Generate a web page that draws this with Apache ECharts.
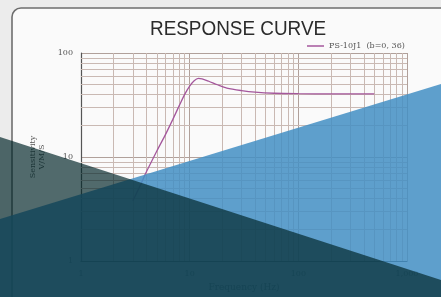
<!DOCTYPE html>
<html>
<head>
<meta charset="utf-8">
<script src="https://cdn.jsdelivr.net/npm/echarts@6/dist/echarts.min.js"></script>
<style>
  html, body { margin: 0; padding: 0; background: #ececec; }
  #chart { width: 441px; height: 297px; }
</style>
</head>
<body>
<div id="chart"></div>
<script>
// response curve: frequency (Hz) / sensitivity (V/M/S)
var freq = [3, 3.5, 4, 5, 6, 7, 8, 9, 10, 11, 12, 13, 15, 18, 22, 30, 40, 60, 100, 200, 300, 500]
var sens = [3.8, 5.3, 7.2, 11.5, 16.5, 23, 31, 40, 48, 54, 57, 56.5, 53.5, 49.5, 46, 43.5, 42, 41, 40.6, 40.4, 40.4, 40.4]
var xMinor = [2, 3, 4, 5, 6, 7, 8, 9, 20, 30, 40, 50, 60, 70, 80, 90, 200, 300, 400, 500, 600, 700, 800, 900]
var yMinor = [2, 3, 4, 5, 6, 7, 8, 9, 20, 30, 40, 50, 60, 70, 80, 90]
var seriesName = 'PS-10J1  (b=0, 36)'

var chart = echarts.init(document.getElementById('chart'))

var gridColor = '#c9b9b3'
var serif = '"DejaVu Serif", "Liberation Serif", serif'

chart.setOption({
  backgroundColor: '#ececec',
  animation: false,
  legend: {
    data: [seriesName],
    left: 302,
    top: 37,
    icon: 'rect',
    itemWidth: 17,
    itemHeight: 1.5,
    itemGap: 4,
    textStyle: { fontFamily: serif, fontSize: 8, color: '#555' }
  },
  grid: { left: 81, right: 34, top: 53, bottom: 29 },
  xAxis: {
    type: 'log',
    logBase: 10,
    min: 1,
    max: 1000,
    name: 'Frequency (Hz)',
    nameLocation: 'middle',
    nameGap: 22,
    nameTextStyle: { fontFamily: serif, fontSize: 9, color: '#444' },
    axisLine: { lineStyle: { color: '#333', width: 1.2 } },
    axisTick: { show: false },
    axisLabel: { fontFamily: serif, fontSize: 8, color: '#555', margin: 9 },
    splitLine: { show: true, lineStyle: { color: '#b0a09a', width: 1 } }
  },
  yAxis: {
    type: 'log',
    logBase: 10,
    min: 1,
    max: 100,
    name: 'Sensitivity\nV/M/S',
    nameLocation: 'middle',
    nameRotate: 90,
    nameGap: 32,
    nameTextStyle: { fontFamily: serif, fontSize: 8, color: '#555', lineHeight: 9 },
    axisLine: { show: true, lineStyle: { color: '#555', width: 1.2 } },
    axisTick: { show: false },
    axisLabel: { fontFamily: serif, fontSize: 8, color: '#555', margin: 8 },
    splitLine: { show: true, lineStyle: { color: '#b0a09a', width: 1 } }
  },
  graphic: [
    {
      // outer frame of the card
      type: 'rect',
      z: -100,
      silent: true,
      shape: { x: 12, y: 8, width: 470, height: 330, r: 9 },
      style: { fill: '#fafafa', stroke: '#6e6e6e', lineWidth: 1.6 }
    },
    {
      // condensed title
      type: 'text',
      x: 150,
      y: 19,
      scaleX: 0.9,
      z: 10,
      silent: true,
      style: {
        text: 'RESPONSE CURVE',
        font: '21px "Liberation Sans", Arial, sans-serif',
        fill: '#2b2b2b',
        textAlign: 'left',
        textVerticalAlign: 'top'
      }
    },
    {
      // blue band rising to the right
      type: 'polygon',
      z: 100,
      silent: true,
      shape: { points: [[0, 219], [441, 84], [441, 297], [0, 297]] },
      style: { fill: 'rgba(67,143,196,0.86)' }
    },
    {
      // dark band falling to the right
      type: 'polygon',
      z: 101,
      silent: true,
      shape: { points: [[0, 137], [441, 280], [441, 297], [0, 297]] },
      style: { fill: 'rgba(0,37,40,0.68)' }
    }
  ],
  series: [
    {
      name: seriesName,
      type: 'line',
      smooth: 0.3,
      symbol: 'none',
      z: 5,
      lineStyle: { color: '#a4579c', width: 1.3 },
      itemStyle: { color: '#a4579c' },
      data: freq.map(function(f, i) { return [f, sens[i]] })
    },
    {
      // minor log grid lines
      type: 'line',
      data: [],
      silent: true,
      z: 1,
      markLine: {
        silent: true,
        symbol: 'none',
        animation: false,
        label: { show: false },
        lineStyle: { color: gridColor, width: 1, type: 'solid' },
        data: xMinor.map(function(v) { return { xAxis: v } })
          .concat(yMinor.map(function(v) { return { yAxis: v } }))
      }
    }
  ]
})
</script>
</body>
</html>
